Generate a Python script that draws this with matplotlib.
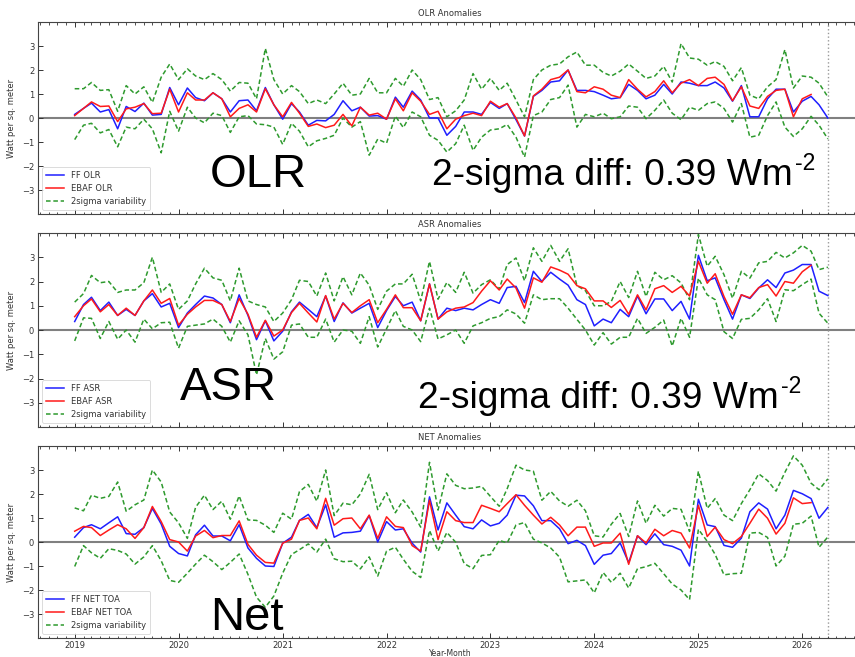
import matplotlib
matplotlib.use("Agg")
import matplotlib.pyplot as plt
import matplotlib.dates as mdates
import numpy as np
import pandas as pd

plt.rcParams['font.family'] = ['DejaVu Sans']

# ---------------- data (monthly, Jan 2019 onward) ----------------
start_month = '2019-01-01'
n_months = 88

olr_ff = [0.15, 0.4, 0.62, 0.25, 0.35, -0.45, 0.48, 0.27, 0.62, 0.12,
          0.15, 1.27, 0.55, 1.25, 0.85, 0.72, 1.05, 0.8, 0.25, 0.72,
          0.75, 0.3, 1.27, 0.55, -0.05, 0.6, 0.25, -0.3, -0.1, -0.12,
          0.15, 0.72, 0.3, 0.45, 0.08, 0.1, -0.05, 0.87, 0.45, 1.12,
          0.75, 0.0, 0.0, -0.72, -0.35, 0.25, 0.25, 0.15, 0.65, 0.4,
          0.6, -0.07, -0.75, 0.9, 1.15, 1.5, 1.55, 2.0, 1.15, 1.15,
          1.1, 0.95, 0.8, 0.85, 1.4, 1.15, 0.8, 0.95, 1.4, 1.0,
          1.5, 1.45, 1.35, 1.35, 1.5, 1.25, 0.7, 1.35, 0.05, 0.05,
          0.8, 1.2, 1.2, 0.25, 0.7, 0.9, 0.55, 0.0]
olr_ebaf = [0.1, 0.4, 0.67, 0.48, 0.5, -0.15, 0.38, 0.45, 0.6, 0.18,
            0.2, 1.2, 0.25, 1.05, 0.75, 0.75, 1.05, 0.8, 0.05, 0.4,
            0.55, 0.25, 1.22, 0.55, 0.05, 0.65, 0.2, -0.35, -0.25, -0.4,
            -0.3, 0.15, -0.33, 0.45, 0.12, 0.2, -0.05, 0.8, 0.3, 1.05,
            0.7, 0.15, 0.28, -0.45, -0.05, 0.1, 0.2, 0.1, 0.7, 0.45,
            0.6, 0.0, -0.75, 0.92, 1.2, 1.6, 1.7, 2.0, 1.1, 1.05,
            1.3, 1.2, 0.95, 0.85, 1.6, 1.2, 0.88, 1.1, 1.55, 1.05,
            1.45, 1.6, 1.35, 1.65, 1.7, 1.4, 0.72, 1.3, 0.5, 0.4,
            0.9, 1.15, 1.2, 0.05, 0.8, 0.98]
olr_up = [1.22, 1.22, 1.48, 1.15, 1.18, 0.28, 1.35, 1.0, 1.3, 0.65,
          1.7, 2.25, 1.6, 2.05, 1.75, 1.6, 1.85, 1.6, 1.12, 1.48,
          1.45, 0.8, 2.9, 1.6, 1.0, 1.35, 1.1, 0.6, 0.75, 0.6,
          1.0, 1.45, 0.95, 1.0, 1.65, 1.05, 1.05, 1.65, 1.32, 2.0,
          1.6, 0.77, 0.85, 0.05, 0.3, 0.75, 1.85, 1.2, 1.65, 1.15,
          1.45, 0.75, 0.05, 1.6, 2.0, 2.2, 2.25, 2.55, 2.75, 2.2,
          2.2, 1.9, 1.75, 1.95, 2.25, 1.95, 1.65, 1.75, 2.15, 1.5,
          3.1, 2.5, 2.45, 2.2, 2.35, 2.15, 1.55, 2.1, 0.95, 0.8,
          1.3, 1.6, 2.85, 1.25, 1.75, 1.7, 1.45, 0.88]
olr_lo = [-0.9, -0.3, -0.22, -0.62, -0.48, -1.2, -0.38, -0.45, -0.05, -0.45,
          -1.45, 0.28, -0.55, 0.45, 0.0, -0.2, 0.2, 0.1, -0.6, 0.05,
          0.1, -0.25, -0.28, -0.38, -1.1, -0.22, -0.55, -1.2, -0.95, -0.85,
          -0.72, 0.0, -0.38, -0.15, -1.55, -0.88, -1.05, 0.08, -0.4, 0.25,
          0.05, -0.72, -0.93, -1.42, -1.07, -0.3, -1.35, -0.8, -0.5, -0.45,
          -0.27, -0.8, -1.63, 0.1, 0.25, 0.77, 0.85, 1.37, -0.38, 0.15,
          0.05, 0.2, -0.03, 0.05, 0.5, 0.45, -0.03, 0.32, 0.75, 0.2,
          -0.07, 0.45, 0.32, 0.6, 0.67, 0.4, -0.17, 0.6, -0.8, -0.72,
          0.1, 0.67, -0.38, -0.77, -0.45, 0.07, -0.3, -0.87]

asr_ff = [0.35, 1.05, 1.35, 0.8, 1.15, 0.6, 0.85, 0.6, 1.2, 1.5,
          0.95, 1.1, 0.1, 0.7, 1.05, 1.4, 1.32, 1.05, 0.3, 1.45,
          0.6, -0.4, 0.38, -0.45, -0.05, 0.75, 1.15, 0.85, 0.55, 1.4,
          0.35, 1.12, 0.7, 0.9, 1.1, 0.1, 0.8, 1.38, 1.0, 1.15,
          0.38, 1.9, 0.45, 0.9, 0.8, 0.9, 0.83, 1.05, 1.25, 1.1,
          1.75, 1.8, 1.13, 2.42, 2.0, 2.38, 2.1, 1.85, 1.25, 1.05,
          0.17, 0.45, 0.3, 0.85, 0.55, 1.4, 0.67, 1.28, 1.28, 0.8,
          1.18, 0.45, 3.08, 2.03, 2.15, 1.25, 0.45, 1.45, 1.3, 1.73,
          2.07, 1.75, 2.35, 2.47, 2.7, 2.7, 1.6, 1.42]
asr_ebaf = [0.55, 1.0, 1.28, 0.75, 1.05, 0.6, 0.9, 0.6, 1.2, 1.65,
            1.1, 1.3, 0.2, 0.65, 0.95, 1.22, 1.22, 1.05, 0.35, 1.3,
            0.65, -0.3, 0.4, -0.25, 0.0, 0.72, 1.1, 0.7, 0.33, 1.42,
            0.45, 1.1, 0.72, 1.0, 1.25, 0.3, 0.85, 1.45, 0.92, 0.92,
            0.38, 1.9, 0.45, 0.75, 0.9, 0.95, 1.13, 1.6, 2.03, 1.65,
            2.1, 1.73, 0.9, 2.15, 1.97, 2.6, 2.47, 2.3, 1.83, 1.7,
            1.2, 1.2, 0.93, 1.22, 0.65, 1.45, 0.83, 1.7, 1.83, 1.55,
            1.8, 1.4, 2.83, 1.93, 2.32, 1.38, 0.65, 1.45, 1.33, 1.75,
            1.87, 1.4, 2.0, 1.93, 2.4, 2.67]
asr_up = [1.15, 1.5, 2.25, 1.95, 2.0, 1.55, 1.65, 1.65, 1.95, 3.0,
          1.55, 1.9, 0.85, 1.2, 1.9, 2.55, 2.15, 2.05, 1.2, 2.55,
          1.2, 1.05, 0.95, 0.35, 0.7, 1.25, 2.05, 2.0, 1.4, 2.35,
          1.2, 2.2, 1.45, 2.35, 1.85, 0.85, 1.6, 1.9, 1.9, 2.3,
          1.2, 2.83, 1.27, 1.96, 1.55, 2.38, 1.52, 1.87, 2.07, 1.69,
          2.7, 2.97, 2.03, 3.39, 2.83, 3.49, 2.83, 3.35, 1.83, 1.62,
          1.0, 1.0, 1.18, 2.0, 1.34, 2.42, 1.38, 2.38, 2.07, 2.24,
          1.94, 1.25, 3.94, 2.63, 3.04, 2.28, 1.31, 2.42, 2.14, 2.77,
          2.83, 3.2, 2.97, 3.18, 3.49, 3.25, 2.49, 2.59]
asr_lo = [-0.45, 0.5, 0.48, -0.35, 0.35, -0.38, 0.0, -0.5, 0.45, 0.05,
          0.3, 0.32, -0.75, 0.15, 0.2, 0.25, 0.45, 0.15, -0.5, 0.38,
          -0.2, -1.85, -0.35, -1.2, -0.9, 0.2, 0.25, -0.3, -0.3, 0.45,
          -0.5, 0.0, -0.05, -0.55, 0.55, -0.7, 0.05, 0.8, 0.15, 0.0,
          -0.48, 0.9, -0.37, -0.2, 0.0, -0.55, 0.17, 0.3, 0.48, 0.55,
          0.83, 0.66, 0.28, 1.45, 1.25, 1.29, 1.29, 0.9, 0.44, 0.0,
          -0.62, -0.11, -0.58, -0.3, -0.3, 0.48, -0.14, 0.11, 0.41, -0.66,
          0.48, -0.3, 2.14, 1.45, 1.25, -0.07, -0.35, 0.44, 0.48, 0.83,
          1.29, 0.35, 1.66, 1.62, 1.87, 2.1, 0.69, 0.28]

net_ff = [0.2, 0.6, 0.72, 0.55, 0.8, 1.05, 0.35, 0.32, 0.6, 1.4,
          0.75, -0.18, -0.48, -0.58, 0.3, 0.7, 0.25, 0.25, 0.05, 0.72,
          -0.25, -0.68, -1.0, -1.02, -0.05, 0.2, 0.9, 1.15, 0.6, 1.55,
          0.2, 0.38, 0.4, 0.45, 1.1, 0.0, 0.85, 0.5, 0.55, -0.05,
          -0.42, 1.88, 0.5, 1.63, 1.12, 0.64, 0.55, 0.92, 0.67, 0.78,
          1.12, 1.95, 1.92, 1.51, 0.89, 0.89, 0.55, -0.07, 0.07, -0.15,
          -0.93, -0.55, -0.48, -0.04, -0.86, 0.26, -0.11, 0.34, -0.11, -0.18,
          -0.34, -1.0, 1.78, 0.71, 0.64, -0.14, -0.22, 0.16, 1.26, 1.63,
          1.37, 0.55, 1.12, 2.15, 2.01, 1.81, 0.99, 1.44]
net_ebaf = [0.45, 0.65, 0.6, 0.27, 0.5, 0.72, 0.55, 0.15, 0.6, 1.48,
            0.85, 0.1, 0.0, -0.38, 0.25, 0.48, 0.18, 0.27, 0.27, 0.88,
            -0.1, -0.55, -0.85, -0.88, -0.05, 0.12, 0.9, 1.0, 0.55, 1.82,
            0.7, 0.97, 1.0, 0.55, 1.12, 0.15, 1.05, 0.65, 0.6, -0.15,
            -0.38, 1.74, 0.1, 1.26, 0.89, 0.81, 0.81, 1.53, 1.4, 1.26,
            1.6, 1.97, 1.53, 1.12, 0.75, 1.03, 0.71, 0.26, 0.62, 0.62,
            -0.18, -0.04, -0.04, 0.37, -0.93, 0.26, -0.04, 0.53, 0.26, 0.48,
            0.37, -0.25, 1.53, 0.23, 0.62, 0.1, -0.07, 0.23, 0.78, 1.37,
            0.99, 0.33, 0.78, 1.84, 1.6, 1.64]
net_up = [1.42, 1.3, 1.95, 1.82, 1.9, 2.5, 1.28, 1.55, 1.75, 3.0,
          2.5, 1.25, 0.8, 0.15, 1.45, 1.95, 1.35, 1.7, 0.95, 1.92,
          0.92, 0.9, 0.7, 0.4, 1.2, 0.95, 2.1, 2.4, 1.7, 3.0,
          1.1, 1.62, 1.55, 2.0, 2.82, 1.35, 2.05, 1.22, 1.75, 1.25,
          0.62, 3.32, 1.33, 2.84, 2.36, 2.22, 2.25, 2.32, 1.9, 1.49,
          2.22, 3.2, 3.0, 2.95, 1.74, 2.11, 1.71, 1.49, 1.74, 1.3,
          0.26, 0.21, 0.74, 1.19, 0.23, 1.71, 0.78, 1.53, 1.08, 1.4,
          1.36, 0.44, 2.95, 1.4, 1.81, 1.12, 0.89, 1.6, 2.18, 2.84,
          2.56, 2.12, 2.9, 3.59, 3.2, 2.45, 2.18, 2.63]
net_lo = [-1.02, -0.15, -0.45, -0.68, -0.28, -0.35, -0.5, -0.92, -0.62, -0.15,
          -0.78, -1.6, -1.68, -1.3, -0.92, -0.55, -0.82, -1.15, -0.85, -0.5,
          -1.35, -2.3, -2.72, -2.25, -1.3, -0.52, -0.32, -0.08, -0.42, 0.12,
          -0.7, -0.82, -0.8, -1.12, -0.62, -1.42, -0.38, -0.22, -0.72, -1.22,
          -1.48, 0.48, -0.38, 0.4, -0.01, -0.9, -1.11, -0.56, -0.53, 0.07,
          -0.04, 0.71, 0.81, 0.12, -0.04, -0.25, -0.63, -1.66, -1.62, -1.58,
          -2.12, -1.27, -1.68, -1.3, -1.92, -1.11, -1.03, -0.89, -1.32, -1.75,
          -2.0, -2.4, 0.53, 0.03, -0.52, -1.37, -1.32, -1.3, 0.37, 0.4,
          0.19, -1.0, -0.59, 0.74, 0.78, 1.08, -0.22, 0.21]

titles = ['OLR Anomalies', 'ASR Anomalies', 'NET Anomalies']
ff_labels = ['FF OLR', 'FF ASR', 'FF NET TOA']
ebaf_labels = ['EBAF OLR', 'EBAF ASR', 'EBAF NET TOA']
sigma_label = '2sigma variability'
ylabel = 'Watt per sq. meter'
xlabel = 'Year-Month'
big_labels = ['OLR', 'ASR', 'Net']
diff_main = '2-sigma diff: 0.39 Wm'
diff_sup = '-2'

series = [(olr_ff, olr_ebaf, olr_up, olr_lo),
          (asr_ff, asr_ebaf, asr_up, asr_lo),
          (net_ff, net_ebaf, net_up, net_lo)]

dates = pd.date_range(start_month, periods=n_months, freq='MS')
end_line = pd.Timestamp('2026-04-01')

W, H = 855, 657
fig = plt.figure(figsize=(W / 100, H / 100), dpi=100)

boxes = [(22, 214), (233, 427), (446, 638)]
left_px, right_px = 37.7, 862

xmin = pd.Timestamp('2018-08-24')
xmax = pd.Timestamp('2026-07-30')

green = '#2e9a2e'
axes = []
for k, (top, bot) in enumerate(boxes):
    ax = fig.add_axes([left_px / W, 1 - bot / H, (right_px - left_px) / W, (bot - top) / H])
    axes.append(ax)
    ff, eb, up, lo = series[k]
    ax.axhline(0, color='#808080', lw=1.5, zorder=1)
    ax.plot(dates, ff, color='#1f1fff', lw=1.1, label=ff_labels[k], zorder=3)
    ax.plot(dates[:len(eb)], eb, color='#ff1a1a', lw=1.1, label=ebaf_labels[k], zorder=4)
    ax.plot(dates, up, color=green, lw=1.1, ls=(0, (3.0, 1.8)), label=sigma_label, zorder=2)
    ax.plot(dates, lo, color=green, lw=1.1, ls=(0, (3.0, 1.8)), zorder=2)
    ax.axvline(end_line, color='#999999', lw=1.0, ls=':', zorder=1)
    ax.set_xlim(xmin, xmax)
    ax.set_ylim(-4, 4)
    ax.set_yticks([-3, -2, -1, 0, 1, 2, 3])
    ax.xaxis.set_major_locator(mdates.YearLocator())
    ax.xaxis.set_major_formatter(mdates.DateFormatter('%Y'))
    ax.xaxis.set_minor_locator(mdates.MonthLocator())
    ax.tick_params(axis='both', which='both', direction='in', top=True, right=True,
                   labelsize=6, colors='#333333', pad=2.5)
    ax.tick_params(axis='x', pad=2)
    ax.tick_params(which='major', length=3.5, width=0.7)
    ax.tick_params(which='minor', length=1.8, width=0.6)
    if k < 2:
        ax.tick_params(axis='x', labelbottom=False)
    for s in ax.spines.values():
        s.set_color('#444444')
        s.set_linewidth(0.8)
    ax.set_title(titles[k], fontsize=6, color='#333333', pad=4)
    ax.set_ylabel(ylabel, fontsize=6, color='#333333', labelpad=4)
    leg = ax.legend(loc='lower left', fontsize=6, frameon=True, handlelength=2.2,
                    borderaxespad=0.5, labelspacing=0.45, borderpad=0.5)
    leg.get_frame().set_edgecolor('#cccccc')
    leg.get_frame().set_linewidth(0.6)
    for t in leg.get_texts():
        t.set_color('#333333')

axes[2].set_xlabel(xlabel, fontsize=5.5, color='#333333')
axes[2].xaxis.set_label_coords(0.5, -0.057)

big_kw = dict(fontsize=34, family='Liberation Sans', color='black', va='baseline')
fig.text(210 / W, 1 - 187 / H, big_labels[0], **big_kw)
fig.text(180 / W, 1 - 400 / H, big_labels[1], **big_kw)
fig.text(210 / W, 1 - 630 / H, big_labels[2], **big_kw)

renderer = fig.canvas.get_renderer()
diff_kw = dict(fontsize=26.7, family='Liberation Sans', color='black', va='baseline')
for (xp, yp) in [(432, 185), (418, 408)]:
    t = fig.text(xp / W, 1 - yp / H, diff_main, **diff_kw)
    bb = t.get_window_extent(renderer=renderer)
    fig.text((bb.x1 + 2) / W, 1 - (yp - 15) / H, diff_sup, fontsize=16.5,
             family='Liberation Sans', color='black', va='baseline')

fig.savefig('out.png', dpi=100)
